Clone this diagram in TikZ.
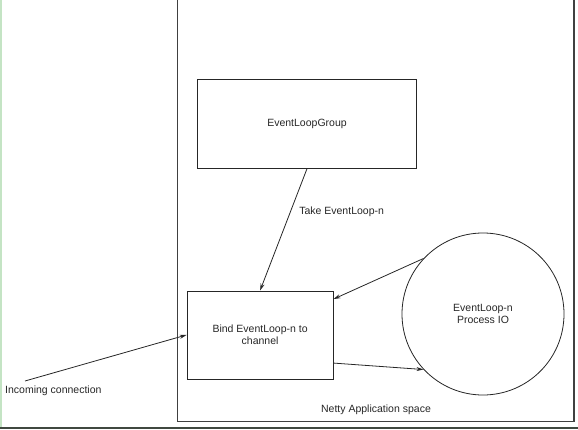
\documentclass[tikz,border=0pt]{standalone}
\usepackage{fontspec}
\setmainfont{Liberation Sans}
\usetikzlibrary{arrows.meta}
\definecolor{edgegreen}{RGB}{196,228,196}
\definecolor{floorgray}{RGB}{64,72,64}
\begin{document}
\begin{tikzpicture}[x=1pt,y=-1pt,
    every node/.style={font=\fontsize{10.5}{12.5}\selectfont,text=black!85},
    box/.style={draw=black!85,line width=0.8pt,rectangle,inner sep=0pt,align=center},
    loopnode/.style={draw=black!85,line width=0.8pt,circle,inner sep=0pt,minimum size=162pt,align=center},
    flow/.style={draw=black!85,line width=0.8pt,-{Stealth[length=7pt,width=4pt]}}]
  \useasboundingbox (0,0) rectangle (578,430);
  % page edges
  \draw[edgegreen,line width=2pt] (1,0) -- (1,427);
  \draw[floorgray,line width=2.2pt] (0,428) -- (578,428);
  % application space
  \draw[black!75,line width=1.2pt] (177.6,-5) rectangle (574,421.7);
  \node (space) at (376,410) {Netty Application space};
  \draw
    (307,123.8) node[box,minimum width=219pt,minimum height=89pt] (group){EventLoopGroup}
    (260.1,334.9) node[box,minimum width=146pt,minimum height=88pt] (bind){Bind EventLoop-n to\\channel}
    (483,314) node[loopnode] (loop){EventLoop-n\\Process IO};
  \coordinate (in) at (25,381);
  \node[anchor=west,inner sep=0pt] (inlabel) at (5,391) {Incoming connection};
  \begin{scope}[flow]
    \draw (group.south) to node[pos=0.35,right=5pt]{Take EventLoop-n} (bind.north);
    \draw (loop.137) to (bind.26);
    \draw (bind.-21) to (loop.223);
    \draw (in) to (bind.west);
  \end{scope}
\end{tikzpicture}
\end{document}
